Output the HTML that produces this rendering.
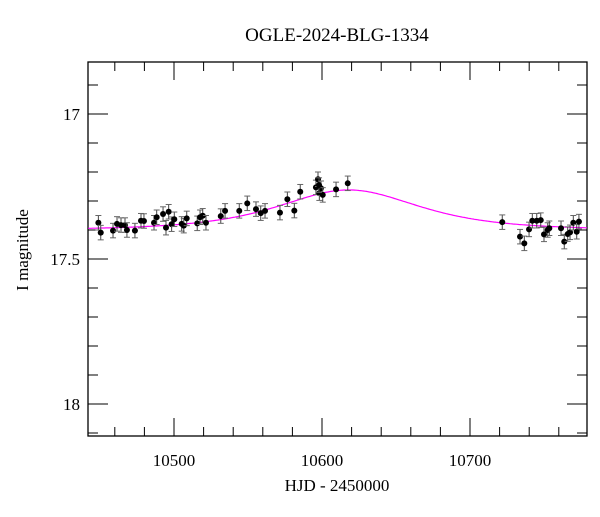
<!DOCTYPE html>
<html><head><meta charset="utf-8"><style>
body{margin:0;background:#fff;}
svg text{font-family:"Liberation Serif",serif;fill:#000;}
</style></head><body>
<svg width="600" height="512" viewBox="0 0 600 512">
<g id="plot"></g>
</svg>
<script>
const hjd=[10448.9,10450.5,10458.8,10461.5,10464.2,10466.9,10468.2,10473.6,10477.7,10479.7,10486.5,10488.3,10492.6,10494.6,10496.4,10498.4,10500.2,10505.2,10506.6,10508.6,10515.7,10517.6,10519.4,10521.6,10531.6,10534.5,10544.1,10549.5,10555.4,10558.6,10561.5,10571.6,10576.6,10581.3,10585.3,10595.9,10597.3,10598.2,10599.3,10600.5,10598.0,10609.5,10617.4,10721.8,10733.8,10736.7,10739.9,10742.1,10745.1,10747.8,10750,10752.5,10753.6,10761.5,10763.7,10766,10767.6,10769.8,10772.1,10773.6];
const mag=[17.375,17.409,17.402,17.379,17.383,17.383,17.4,17.402,17.368,17.369,17.375,17.356,17.345,17.392,17.337,17.380,17.363,17.379,17.385,17.360,17.377,17.356,17.351,17.375,17.352,17.334,17.334,17.308,17.328,17.342,17.334,17.340,17.294,17.333,17.268,17.253,17.225,17.273,17.256,17.279,17.245,17.260,17.239,17.373,17.423,17.446,17.398,17.368,17.368,17.366,17.415,17.4,17.394,17.394,17.440,17.414,17.408,17.375,17.406,17.371];
const magErr=[0.025];
const xTicks=[10500,10600,10700];
const yTicks=[17,17.5,18];
const modelT0=[10618],modelU0=[1.49],modelTE=[45],modelBase=[17.40];

const L=88,R=587,T=62,B=436;
const sx=d=>174+(d-10500)*1.48;
const sy=m=>114+(m-17)*290;
const NS='http://www.w3.org/2000/svg';
const g=document.getElementById('plot');
function mk(t,a,p){const e=document.createElementNS(NS,t);for(const k in a)e.setAttribute(k,a[k]);(p||g).appendChild(e);return e;}

const frame=mk('rect',{x:L,y:T,width:R-L,height:B-T,fill:'none',stroke:'#000','stroke-width':1.3});



for(let d=10460;d<=10770;d+=20){
  const x=sx(d);if(x<L||x>R)continue;
  const major=d%100===0,len=major?18:9;
  const t1=mk('line',{x1:x,x2:x,y1:B,y2:B-len,stroke:'#000','stroke-width':1});
  
  
  const t2=mk('line',{x1:x,x2:x,y1:T,y2:T+len,stroke:'#000','stroke-width':1});
  
  
}
xTicks.forEach(d=>{
  const t=mk('text',{x:sx(d),y:B+30,'font-size':17,'text-anchor':'middle'});t.textContent=d;
  
  
});
for(let k=-2;k<=12;k++){
  const m=17+k/10,y=sy(m);if(y<T||y>B)continue;
  const major=(k%5===0),len=major?20:10;
  const t1=mk('line',{x1:L,x2:L+len,y1:y,y2:y,stroke:'#000','stroke-width':1});
  
  
  const t2=mk('line',{x1:R,x2:R-len,y1:y,y2:y,stroke:'#000','stroke-width':1});
  
  
}
yTicks.forEach(m=>{
  const t=mk('text',{x:80,y:sy(m)+6,'font-size':17,'text-anchor':'end'});t.textContent=m;
  
  
});
function model(t){const tau=(t-modelT0[0])/modelTE[0];const u=Math.sqrt(modelU0[0]**2+tau*tau);const A=(u*u+2)/(u*Math.sqrt(u*u+4));return modelBase[0]-2.5*Math.log10(A);}
let pts=[];for(let d=10442;d<=10779;d+=1)pts.push(sx(d).toFixed(1)+','+sy(model(d)).toFixed(1));
const ml=mk('polyline',{points:pts.join(' '),fill:'none',stroke:'#ff00ff','stroke-width':1.2});


hjd.forEach((d,i)=>{
  const x=sx(d),y=sy(mag[i]),e=magErr[0]*290;
  const gg=mk('g',{});
  
  
  mk('line',{x1:x,x2:x,y1:y-e,y2:y+e,stroke:'#444','stroke-width':1},gg);
  mk('line',{x1:x-3,x2:x+3,y1:y-e,y2:y-e,stroke:'#666','stroke-width':1},gg);
  mk('line',{x1:x-3,x2:x+3,y1:y+e,y2:y+e,stroke:'#666','stroke-width':1},gg);
  mk('circle',{cx:x,cy:y,r:3,fill:'#000'},gg);
});
const title=mk('text',{x:337,y:41,'font-size':19,'text-anchor':'middle'});title.textContent='OGLE-2024-BLG-1334';


const xl=mk('text',{x:337,y:491,'font-size':17,'text-anchor':'middle'});xl.textContent='HJD - 2450000';


const yl=mk('text',{x:0,y:0,'font-size':17,'text-anchor':'middle',transform:'translate(28,250) rotate(-90)'});yl.textContent='I magnitude';


</script>
</body></html>
